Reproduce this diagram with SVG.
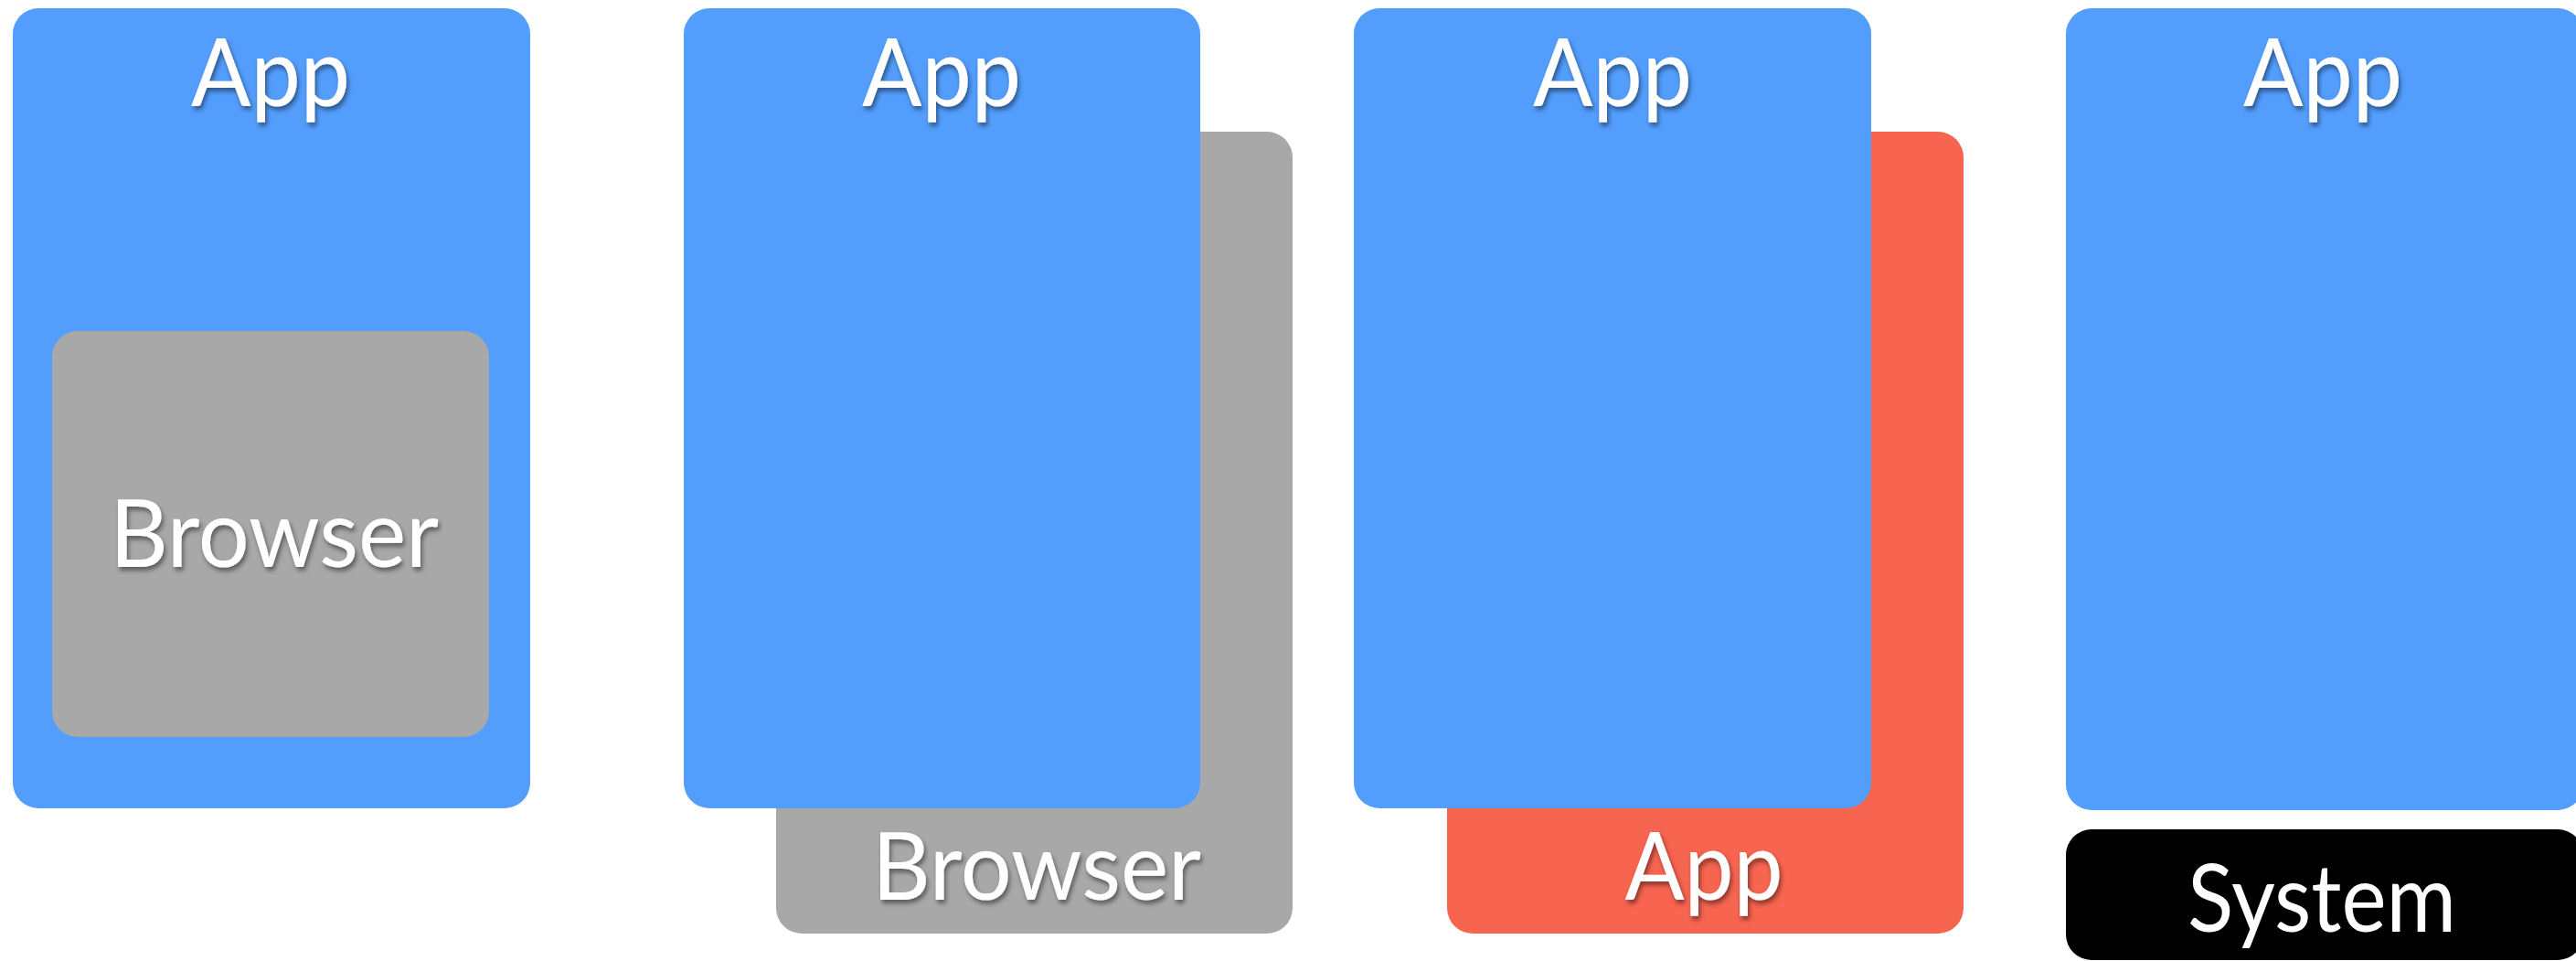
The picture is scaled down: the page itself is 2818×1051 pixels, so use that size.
<svg xmlns="http://www.w3.org/2000/svg" width="2818" height="1051" viewBox="0 0 2818 1051">
<defs>
<style>
.blue{fill:#539DFC}
.gray{fill:#A8A8A8}
.red{fill:#F76450}
.black{fill:#000000}
.lbl{font-family:"Lato","Liberation Sans",sans-serif;font-size:103px;fill:#ffffff;text-anchor:middle}
.sh{filter:url(#ts)}
</style>
<filter id="ts" x="-20%" y="-20%" width="140%" height="150%">
<feDropShadow dx="2" dy="4" stdDeviation="2.5" flood-color="#000" flood-opacity="0.45"/>
</filter>
</defs>
<rect width="2818" height="1051" fill="#ffffff"/>
<g id="panel1">
<g id="p1-app">
<rect class="blue" x="14" y="9" width="566" height="875" rx="28"/>
<text class="lbl sh" x="296" y="116" textLength="174" lengthAdjust="spacingAndGlyphs">App</text>
</g>
<g id="p1-browser">
<rect class="gray" x="57" y="362" width="478" height="444" rx="28"/>
<text class="lbl sh" x="300" y="620" textLength="360" lengthAdjust="spacingAndGlyphs">Browser</text>
</g>
</g>
<g id="panel2">
<g id="p2-browser">
<rect class="gray" x="849" y="144" width="565" height="877" rx="28"/>
<text class="lbl sh" x="1134" y="984" textLength="360" lengthAdjust="spacingAndGlyphs">Browser</text>
</g>
<g id="p2-app">
<rect class="blue" x="748" y="9" width="565" height="875" rx="28"/>
<text class="lbl sh" x="1030" y="116" textLength="174" lengthAdjust="spacingAndGlyphs">App</text>
</g>
</g>
<g id="panel3">
<g id="p3-app-red">
<rect class="red" x="1583" y="144" width="565" height="877" rx="28"/>
<text class="lbl sh" x="1864" y="984" textLength="173" lengthAdjust="spacingAndGlyphs">App</text>
</g>
<g id="p3-app">
<rect class="blue" x="1481" y="9" width="566" height="875" rx="28"/>
<text class="lbl sh" x="1764" y="116" textLength="174" lengthAdjust="spacingAndGlyphs">App</text>
</g>
</g>
<g id="panel4">
<g id="p4-app">
<rect class="blue" x="2260" y="9" width="566" height="877" rx="28"/>
<text class="lbl sh" x="2541" y="116" textLength="174" lengthAdjust="spacingAndGlyphs">App</text>
</g>
<g id="p4-system">
<rect class="black" x="2260" y="907" width="566" height="143" rx="28"/>
<text class="lbl" x="2540" y="1019" textLength="294" lengthAdjust="spacingAndGlyphs">System</text>
</g>
</g>
<g id="connectors"/>
</svg>
